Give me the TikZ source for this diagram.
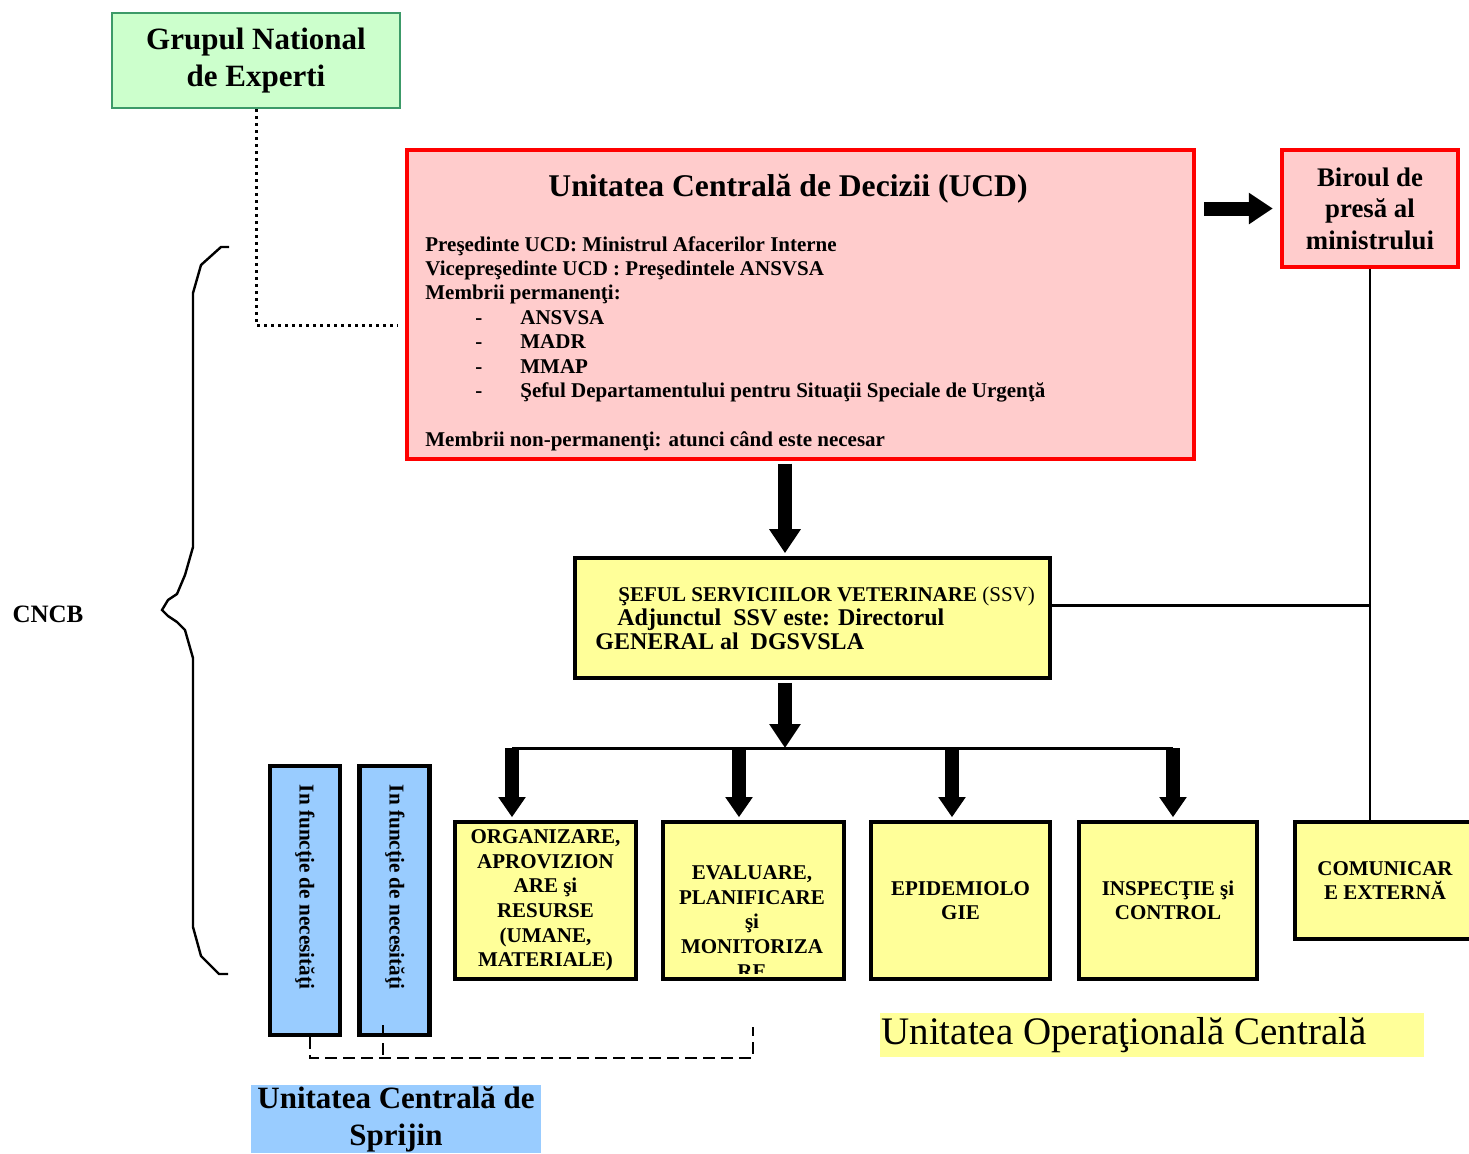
\documentclass[tikz,border=0pt]{standalone}
\usepackage{fontspec}
\setmainfont{Liberation Serif}
\usetikzlibrary{arrows.meta}
\definecolor{ucdpink}{HTML}{FFCCCC}
\definecolor{ucdred}{HTML}{FF0000}
\definecolor{opyellow}{HTML}{FFFF99}
\definecolor{supblue}{HTML}{99CCFF}
\definecolor{expgreen}{HTML}{CCFFCC}
\definecolor{expline}{HTML}{3C9A68}
\newcommand{\necesar}{In funcţie de necesităţi}
\newcommand{\membru}[1]{\makebox[47.5pt][l]{\hspace*{25pt}-}#1}

\begin{document}
\begin{tikzpicture}
    \tikzset{x=0.5pt, y=-0.5pt}
    \tikzstyle{unit}=[rectangle, draw=ucdred, line width=2.2pt, fill=ucdpink, inner sep=0pt]
    \tikzstyle{dept}=[rectangle, draw, line width=2.4pt, fill=opyellow, inner sep=0pt, align=center, font=\fontsize{10.5}{12.3}\selectfont\bfseries, minimum height=78.5pt]
    \tikzstyle{support}=[rectangle, draw, line width=2.4pt, fill=supblue, minimum width=35pt, minimum height=134.5pt]
    \tikzstyle{txt}=[inner sep=0pt, align=left]
    \tikzstyle{fat}=[line width=7pt, -{Triangle[width=15pt, length=12pt]}]
    \tikzstyle{branch}=[line width=7pt, -{Triangle[width=13pt, length=10pt]}]
    \tikzstyle{link}=[line width=1.2pt]
    \tikzstyle{dotline}=[line width=1.5pt, dash pattern=on 1.5pt off 2pt]
    \tikzstyle{dashline}=[line width=1pt, dash pattern=on 6pt off 3pt]

    \useasboundingbox (0, 0) rectangle (1469, 1153);

    \draw (256, 60.5)   node[rectangle, draw=expline, line width=1pt, fill=expgreen, minimum width=144pt, minimum height=47.5pt, align=center, font=\fontsize{15.5}{18.5}\selectfont\bfseries] (gne) {Grupul National\\de Experti};

    \draw (800.5, 304.5) node[unit, minimum width=393.5pt, minimum height=154.5pt] (ucd) {};
    \draw (788, 189)    node[txt, font=\fontsize{15.8}{18}\selectfont\bfseries] (ucdtitle) {Unitatea Centrală de Decizii (UCD)};
    \draw (425, 236)    node[txt, anchor=north west, font=\fontsize{10.5}{12.2}\selectfont\bfseries] (ucdbody)
        {Preşedinte UCD: Ministrul Afacerilor Interne\\
         Vicepreşedinte UCD : Preşedintele ANSVSA\\
         Membrii permanenţi:\\
         \membru{ANSVSA}\\
         \membru{MADR}\\
         \membru{MMAP}\\
         \membru{Şeful Departamentului pentru Situaţii Speciale de Urgenţă}\\[12.2pt]
         Membrii non-permanenţi: atunci când este necesar};

    \draw (1370, 208.5) node[unit, minimum width=88pt, minimum height=58.5pt, align=center, font=\fontsize{13.4}{15.75}\selectfont\bfseries] (birou) {Biroul de\\ presă al\\ ministrului};

    \draw (812.5, 618)  node[rectangle, draw, line width=2.4pt, fill=opyellow, minimum width=237.5pt, minimum height=60pt] (ssv) {};
    \draw (595, 587)    node[txt, anchor=north west] (ssvtext)
        {\hspace*{11.5pt}\fontsize{10.5}{12}\selectfont\bfseries ŞEFUL SERVICIILOR VETERINARE \mdseries(SSV)\\
         \hspace*{11pt}\fontsize{12}{13}\selectfont\bfseries Adjunctul\ \ SSV este: Directorul\\
         \fontsize{12}{13}\selectfont\bfseries GENERAL al\ \ DGSVSLA};

    \draw (545.5, 900.5) node[dept, minimum width=90.5pt] (org)  {ORGANIZARE,\\ APROVIZION\\ ARE şi\\ RESURSE\\ (UMANE,\\ MATERIALE)};
    \draw (753.5, 900.5) node[dept, minimum width=90.5pt] (eval) {};
    \begin{scope}
        \clip ([shift={(1.2pt,4pt)}]eval.south west) rectangle ([shift={(-1.2pt,-1.2pt)}]eval.north east);
        \draw (752, 922) node[dept, draw=none, fill=none] (evaltext) {EVALUARE,\\ PLANIFICARE\\ şi\\ MONITORIZA\\ RE};
    \end{scope}
    \draw (960.5, 900.5) node[dept, minimum width=89.5pt] (epid) {EPIDEMIOLO\\ GIE};
    \draw (1168, 900.5)  node[dept, minimum width=89pt]   (insp) {INSPECŢIE şi\\ CONTROL};
    \draw (1385, 880.5)  node[dept, minimum width=90pt, minimum height=58.5pt] (com) {COMUNICAR\\ E EXTERNĂ};

    \draw (305, 900.5)   node[support] (nec1) {};
    \draw (394.5, 900.5) node[support] (nec2) {};
    \draw (305, 887)     node[txt, rotate=-90, font=\fontsize{10.6}{12}\selectfont\bfseries] (nec1text) {\necesar};
    \draw (395, 887)     node[txt, rotate=-90, font=\fontsize{10.6}{12}\selectfont\bfseries] (nec2text) {\necesar};

    \draw (396, 1119)    node[fill=supblue, minimum width=145pt, minimum height=34pt, inner sep=0pt, align=center, font=\fontsize{15.5}{18.5}\selectfont\bfseries] (sprijin) {Unitatea Centrală de\\ Sprijin};
    \draw (1152, 1035)   node[fill=opyellow, minimum width=272pt, minimum height=22pt, inner sep=0pt] (opunit) {};
    \draw (881, 1035)    node[txt, anchor=west, font=\fontsize{19.5}{22}\selectfont] (opunittext) {Unitatea Operaţională Centrală};
    \draw (48, 614)      node[font=\fontsize{12.5}{15}\selectfont\bfseries] (cncb) {CNCB};

    \coordinate (ucddot) at (398, 325);
    \draw[dotline] (gne.south) |- (ucddot);

    \draw[fat, shorten <=4pt, shorten >=3.5pt] (ucd.east |- birou.west) -- (birou.west);

    \coordinate (hub) at (785, 748);
    \draw[fat, shorten <=1.2pt, shorten >=1.2pt] (hub |- ucd.south) -- (hub |- ssv.north);
    \draw[fat, shorten <=1.2pt] (hub |- ssv.south) -- (hub);

    \coordinate (b1) at (512, 748);
    \coordinate (b2) at (739, 748);
    \coordinate (b3) at (952, 748);
    \coordinate (b4) at (1173, 748);
    \draw[link, line width=1.5pt] (b1) -- (b4);
    \foreach \b/\d in {b1/org, b2/eval, b3/epid, b4/insp}
        \draw[branch, shorten >=1.2pt] (\b) -- (\b |- \d.north);

    \draw[link] (birou.south) -- (birou.south |- com.north);
    \draw[link] (ssv.3) -- (ssv.3 -| birou.south);

    \coordinate (d1) at (310, 1058);
    \coordinate (d2) at (383, 1058);
    \coordinate (d3) at (753, 1058);
    \coordinate (d2top) at (383, 1025);
    \coordinate (d3top) at (753, 1027);
    \draw[dashline] (d1 |- nec1.south) -- (d1) -- (d3) -- (d3top);
    \draw[dashline] (d2top) -- (d2);

    \draw[line width=1.2pt] (229,247) -- (221,247) -- (201,265) -- (193,293) -- (193,547) -- (185,575) -- (177,594) -- (168,600) -- (162,610)
        -- (168,616) -- (177,622) -- (185,630) -- (193,658) -- (193,927) -- (201,956) -- (219,974) -- (228,974);
\end{tikzpicture}
\end{document}
